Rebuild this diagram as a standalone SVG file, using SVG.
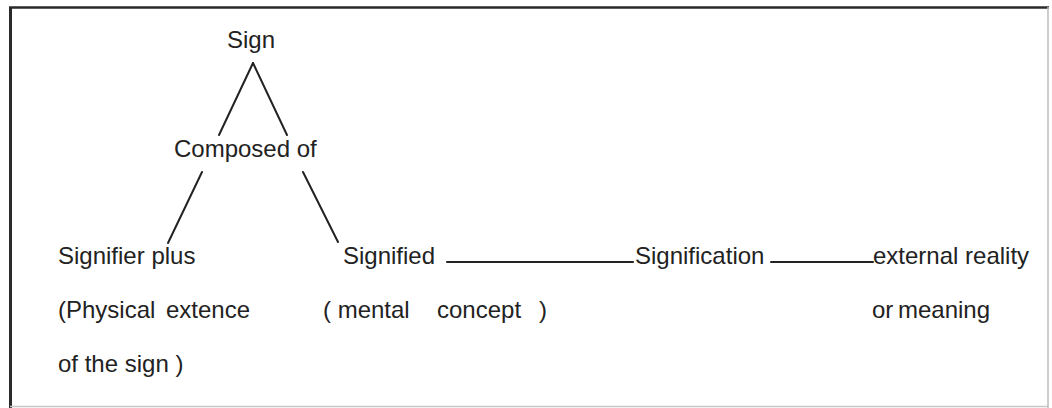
<svg xmlns="http://www.w3.org/2000/svg" width="1052" height="408" viewBox="0 0 1052 408">
  <style>
    .t { font-family: "Liberation Sans", Arial, sans-serif; font-size: 24px; fill: #222; }
    .c { stroke: #222; stroke-width: 2; fill: none; stroke-linecap: round; }
  </style>
  <rect x="0" y="0" width="1052" height="408" fill="#ffffff"/>
  <g id="frame">
    <line x1="10.5" y1="7" x2="10.5" y2="408" stroke="#2a2a2a" stroke-width="3"/>
    <line x1="9" y1="7.5" x2="1049" y2="7.5" stroke="#2a2a2a" stroke-width="2.5"/>
    <line x1="1048" y1="7" x2="1048" y2="408" stroke="#bdbdbd" stroke-width="1.5"/>
    <line x1="10" y1="406.5" x2="1049" y2="406.5" stroke="#c8c8c8" stroke-width="1.5"/>
  </g>
  <g id="connectors">
    <line class="c" x1="253" y1="63" x2="219" y2="135"/>
    <line class="c" x1="253" y1="63" x2="287" y2="135"/>
    <line class="c" x1="202" y1="172" x2="168" y2="243"/>
    <line class="c" x1="303" y1="172" x2="338" y2="242"/>
    <line class="c" x1="447" y1="262" x2="633" y2="262"/>
    <line class="c" x1="771" y1="262" x2="873" y2="262"/>
  </g>
  <g id="sign">
    <text class="t" x="227" y="48">Sign</text>
  </g>
  <g id="composed">
    <text class="t" x="174" y="157">Composed of</text>
  </g>
  <g id="signifier">
    <text class="t" x="58" y="264">Signifier plus</text>
    <text class="t" y="318"><tspan x="58">(Physical</tspan> <tspan x="166">extence</tspan></text>
    <text class="t" x="58" y="372">of the sign )</text>
  </g>
  <g id="signified">
    <text class="t" x="343" y="264">Signified</text>
    <text class="t" y="318"><tspan x="323">( mental</tspan> <tspan x="437">concept</tspan> <tspan x="539">)</tspan></text>
  </g>
  <g id="signification">
    <text class="t" x="635" y="264">Signification</text>
  </g>
  <g id="reality">
    <text class="t" x="873" y="264">external reality</text>
    <text class="t" y="318"><tspan x="872">or</tspan> <tspan x="898">meaning</tspan></text>
  </g>
</svg>
